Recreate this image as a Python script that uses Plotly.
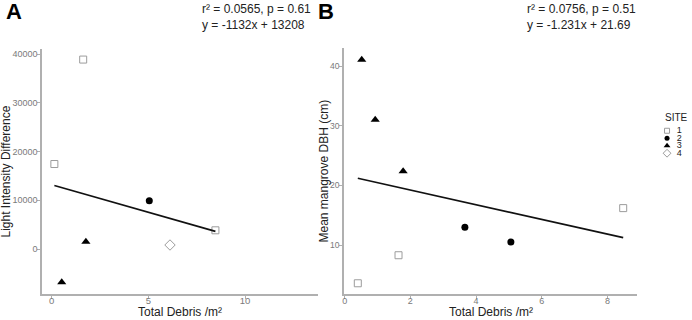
import plotly.graph_objects as go

# ---- data ----
sites = [1, 2, 3, 4]
site_labels = ["1", "2", "3", "4"]

# Panel A: Total debris vs light intensity difference
siteA = [1, 1, 1, 2, 3, 3, 4]
debrisA = [1.63, 0.14, 8.47, 5.05, 1.77, 0.52, 6.12]
lightA = [38900, 17450, 3840, 9920, 1500, -6840, 820]
slopeA, interceptA = -1132, 13208

# Panel B: Total debris vs mean mangrove DBH
siteB = [1, 1, 1, 2, 2, 3, 3, 3]
debrisB = [0.40, 1.64, 8.48, 3.66, 5.06, 0.52, 0.93, 1.78]
dbhB = [3.6, 8.3, 16.2, 13.0, 10.5, 41.1, 31.0, 22.4]
slopeB, interceptB = -1.231, 21.69

ticksA_x = [0, 5, 10]
ticksA_y = [0, 10000, 20000, 30000, 40000]
ticksB_x = [0, 2, 4, 6, 8]
ticksB_y = [10, 20, 30, 40]

# ---- styles ----
W, H = 692, 320
GRAY = "#9c9c9c"
styles = {
    1: dict(symbol="square-open", color=GRAY, size=7, line=dict(width=1, color=GRAY)),
    2: dict(symbol="circle", color="black", size=7),
    3: dict(symbol="triangle-up", color="black", size=8),
    4: dict(symbol="diamond-open", color=GRAY, size=8, line=dict(width=1, color=GRAY)),
}
legend_styles = {
    1: dict(symbol="square-open", color=GRAY, size=5, line=dict(width=1, color=GRAY)),
    2: dict(symbol="circle", color="black", size=5),
    3: dict(symbol="triangle-up", color="black", size=6),
    4: dict(symbol="diamond-open", color=GRAY, size=6, line=dict(width=1, color=GRAY)),
}

fig = go.Figure()

def add_panel(site, xs, ys, xa, ya):
    for s in sites:
        px = [x for x, ss in zip(xs, site) if ss == s]
        py = [y for y, ss in zip(ys, site) if ss == s]
        if px:
            fig.add_trace(go.Scatter(x=px, y=py, mode="markers", marker=styles[s],
                                     xaxis=xa, yaxis=ya, showlegend=False,
                                     name=str(s)))

add_panel(siteA, debrisA, lightA, "x", "y")
add_panel(siteB, debrisB, dbhB, "x2", "y2")

# regression lines
xa_line = [min(debrisA), max(debrisA)]
fig.add_trace(go.Scatter(x=xa_line, y=[slopeA * v + interceptA for v in xa_line],
                         mode="lines", line=dict(color="#111111", width=1.6),
                         xaxis="x", yaxis="y", showlegend=False))
xb_line = [min(debrisB), max(debrisB)]
fig.add_trace(go.Scatter(x=xb_line, y=[slopeB * v + interceptB for v in xb_line],
                         mode="lines", line=dict(color="#111111", width=1.6),
                         xaxis="x2", yaxis="y2", showlegend=False))

# legend keys (drawn on a small hidden axis)
for s in sites:
    fig.add_trace(go.Scatter(x=[0.22], y=[s], mode="markers",
                             marker=legend_styles[s], xaxis="x3", yaxis="y3",
                             showlegend=False, cliponaxis=False))
fig.add_trace(go.Scatter(x=[0.6] * len(sites), y=sites, mode="text", text=site_labels,
                         textposition="middle center",
                         textfont=dict(family="Liberation Sans", size=9,
                                       color=["#222222"] * len(sites)),
                         xaxis="x3", yaxis="y3", showlegend=False, cliponaxis=False,
                         hoverinfo="skip"))

def px_x(p):
    return p / W

def px_y(p):
    return 1 - p / H

axis_common = dict(showline=True, linecolor="#b0b0b0", linewidth=1.5, ticks="outside",
                   ticklen=3, tickcolor="#b0b0b0", tickwidth=1, showgrid=False,
                   zeroline=False, automargin=False, tickformat="d",
                   tickfont=dict(family="Liberation Sans", size=9.5, color="#7a7a7a"))

fig.update_layout(
    width=W, height=H, margin=dict(l=0, r=0, t=0, b=0),
    paper_bgcolor="white", plot_bgcolor="white",
    font=dict(family="Liberation Sans", color="#222222"),
    xaxis=dict(domain=[px_x(42), px_x(317.7)], range=[-0.5, 13.76], tickvals=ticksA_x,
               anchor="y", ticklabelstandoff=-6, **axis_common),
    yaxis=dict(domain=[px_y(294), px_y(49)], range=[-9240, 41070], tickvals=ticksA_y,
               anchor="x", ticklabelstandoff=-2, **axis_common),
    xaxis2=dict(domain=[px_x(344), px_x(637)], range=[-0.02, 8.9], tickvals=ticksB_x,
                anchor="y2", ticklabelstandoff=-6, **axis_common),
    yaxis2=dict(domain=[px_y(294), px_y(48.3)], range=[1.8, 43.0], tickvals=ticksB_y,
                anchor="x2", ticklabelstandoff=-2, **axis_common),
    xaxis3=dict(domain=[px_x(660), px_x(692)], range=[0, 1], visible=False, anchor="y3"),
    yaxis3=dict(domain=[px_y(157), px_y(127)], range=[4.5, 0.5], visible=False, anchor="x3"),
)
fig.update_yaxes(tickfont=dict(size=9), selector=dict(anchor="x"))
fig.update_yaxes(tickfont=dict(size=8.5), selector=dict(anchor="x2"))
fig.update_xaxes(tickfont=dict(size=9), selector=dict(anchor="y2"))

ann_font = dict(family="Liberation Sans", size=12, color="#222222")
title_font = dict(family="Liberation Sans", size=12, color="#222222")
annotations = [
    dict(text="<b>A</b>", x=px_x(4), y=px_y(12), xanchor="left", yanchor="middle",
         font=dict(family="Liberation Sans", size=22, color="black")),
    dict(text="<b>B</b>", x=px_x(316), y=px_y(12), xanchor="left", yanchor="middle",
         font=dict(family="Liberation Sans", size=22, color="black")),
    dict(text="r² = 0.0565, p = 0.61", x=px_x(200), y=px_y(9), xanchor="left", yanchor="middle", font=ann_font),
    dict(text="y = -1132x + 13208", x=px_x(200), y=px_y(25), xanchor="left", yanchor="middle", font=ann_font),
    dict(text="r² = 0.0756, p = 0.51", x=px_x(525), y=px_y(9), xanchor="left", yanchor="middle", font=ann_font),
    dict(text="y = -1.231x + 21.69", x=px_x(525), y=px_y(25), xanchor="left", yanchor="middle", font=ann_font),
    dict(text="SITE", x=px_x(663), y=px_y(117), xanchor="left", yanchor="middle",
         font=dict(family="Liberation Sans", size=10, color="#222222")),
    # axis titles
    dict(text="Total Debris /m²", x=px_x(180), y=px_y(312), xanchor="center", yanchor="middle", font=title_font),
    dict(text="Total Debris /m²", x=px_x(490.5), y=px_y(312), xanchor="center", yanchor="middle", font=title_font),
    dict(text="Light Intensity Difference", x=px_x(5), y=px_y(171.5), xanchor="center", yanchor="middle",
         textangle=-90, font=title_font),
    dict(text="Mean mangrove DBH (cm)", x=px_x(323.5), y=px_y(171), xanchor="center", yanchor="middle",
         textangle=-90, font=title_font),
]
for a in annotations:
    a.update(xref="paper", yref="paper", showarrow=False)
fig.update_layout(annotations=annotations)

fig.write_html("out.html", config={"displayModeBar": False},
               post_script="document.body.style.margin='0px';")
